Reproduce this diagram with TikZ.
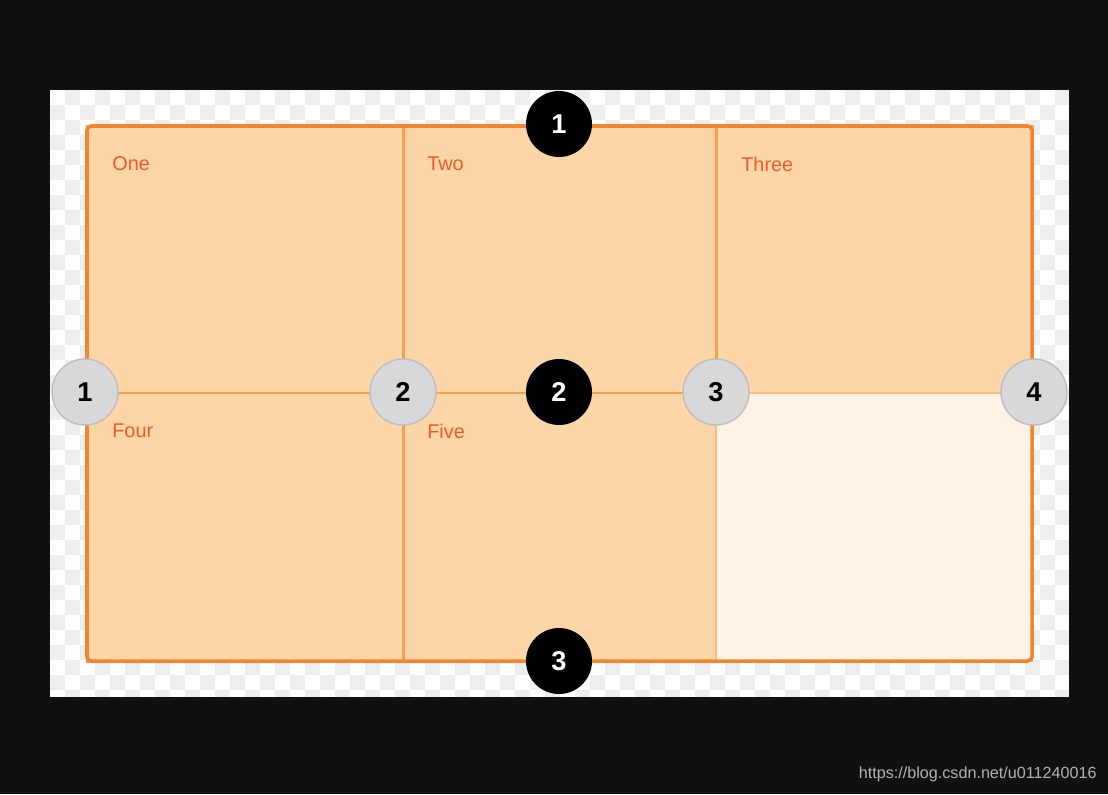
\documentclass[tikz,border=0pt]{standalone}
\usepackage{fontspec}
\setmainfont{Liberation Sans}
\definecolor{bgdark}{HTML}{101010}
\definecolor{checkgray}{HTML}{EEEEF0}
\definecolor{cellfill}{HTML}{FDD6A7}
\definecolor{emptyfill}{HTML}{FEF3E5}
\definecolor{gridline}{HTML}{F9A04C}
\definecolor{borderline}{HTML}{F5842F}
\definecolor{labelred}{HTML}{EE5A2C}
\definecolor{linegray}{HTML}{D8D8DA}
\definecolor{ringgray}{HTML}{BEBEC0}

\begin{document}
\begin{tikzpicture}[x=0.02cm, y=-0.02cm,
                    cell/.style={fill=cellfill, draw=gridline, line width=1.7pt},
                    empty cell/.style={fill=emptyfill, draw=gridline!70, line width=1pt},
                    name node/.style={anchor=west, inner sep=0pt, text=labelred,
                                      font=\fontsize{11.3}{13}\selectfont},
                    row node/.style={circle, fill=black, text=white, minimum size=1.32cm,
                                     inner sep=0pt, font=\fontsize{15.5}{18}\selectfont\bfseries},
                    col node/.style={circle, fill=linegray, draw=ringgray, line width=0.8pt,
                                     text=black, minimum size=1.32cm, inner sep=0pt,
                                     font=\fontsize{15.5}{18}\selectfont\bfseries}]
  % backdrop and panel
  \fill[bgdark] (0,0) rectangle (1108,794);
  \fill[white] (50,90) rectangle (1069,697);
  \foreach \i in {0,...,67}
    \foreach \j in {0,...,40}{
      \pgfmathparse{int(mod(\i+\j,2))}
      \ifnum\pgfmathresult=1
        \fill[checkgray] ({50+15*\i},{90+15*\j}) rectangle ({min(50+15*(\i+1),1069)},{min(90+15*(\j+1),697)});
      \fi
    }

  % grid areas
  \path[cell] (87,126) rectangle (403,393);
  \path[cell] (403,126) rectangle (716,393);
  \path[cell] (716,126) rectangle (1032,393);
  \path[cell] (87,393) rectangle (403,661);
  \path[cell] (403,393) rectangle (716,661);
  \path[empty cell] (716,393) rectangle (1032,661);
  \draw[gridline, line width=1.7pt] (403,126) -- (403,661);
  \draw[gridline, line width=1.7pt] (87,393) -- (716,393);
  \draw[borderline, line width=2pt, rounded corners=2.5pt] (87,126) rectangle (1032,661);

  \node[name node] (one) at (112,164) {One};
  \node[name node] (two) at (427,164) {Two};
  \node[name node] (three) at (741,164) {Three};
  \node[name node] (four) at (112,431) {Four};
  \node[name node] (five) at (427,431) {Five};

  % line numbers
  \node[row node] (r1) at (559,124) {1};
  \node[row node] (r2) at (559,392) {2};
  \node[row node] (r3) at (559,661) {3};
  \node[col node] (c1) at (85,392) {1};
  \node[col node] (c2) at (403,392) {2};
  \node[col node] (c3) at (716,392) {3};
  \node[col node] (c4) at (1034,392) {4};

  \node[anchor=east, inner sep=0pt, text=white!70!black, font=\fontsize{9.2}{11}\selectfont]
    (site) at (1097,774) {https://blog.csdn.net/u011240016};
\end{tikzpicture}
\end{document}
